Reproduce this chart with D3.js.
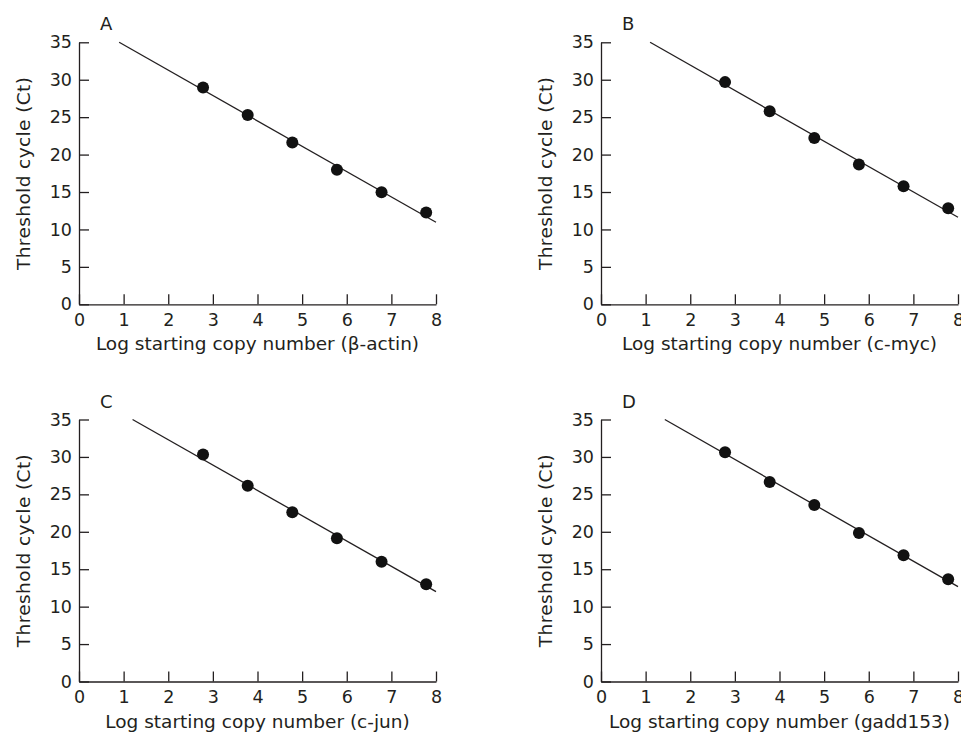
<!DOCTYPE html>
<html>
<head>
<meta charset="utf-8">
<script src="https://cdn.jsdelivr.net/npm/d3@7"></script>
<style>
  body { margin: 0; background: #fff; }
  svg text { font-family: "DejaVu Sans", sans-serif; fill: #231f20; }
</style>
</head>
<body>
<script>
// log starting copy number (same dilution series in each panel)
var logCopies = [2.78, 3.78, 4.78, 5.78, 6.78, 7.78];

// threshold cycle values
var ctActin = [28.97, 25.3, 21.6, 17.96, 14.97, 12.26];
var ctMyc   = [29.68, 25.8, 22.23, 18.67, 15.78, 12.83];
var ctJun   = [30.33, 26.15, 22.6, 19.13, 16.0, 12.99];
var ctGadd  = [30.64, 26.64, 23.57, 19.83, 16.86, 13.66];

// end points of the fitted lines [x, y]
var fitActin = [[0.9, 35], [8, 10.96]];
var fitMyc   = [[1.1, 35], [8, 11.63]];
var fitJun   = [[1.2, 35], [8, 12.0]];
var fitGadd  = [[1.43, 35], [8, 12.67]];

var panelLetters = ["A", "B", "C", "D"];
var genes = ["β-actin", "c-myc", "c-jun", "gadd153"];
var xTicks = [0, 1, 2, 3, 4, 5, 6, 7, 8];
var yTicks = [0, 5, 10, 15, 20, 25, 30, 35];

var panels = [
  {letter: panelLetters[0], gene: genes[0], ct: ctActin, fit: fitActin, left: 79,  top: 42.3},
  {letter: panelLetters[1], gene: genes[1], ct: ctMyc,   fit: fitMyc,   left: 601, top: 42.3},
  {letter: panelLetters[2], gene: genes[2], ct: ctJun,   fit: fitJun,   left: 79,  top: 419.5},
  {letter: panelLetters[3], gene: genes[3], ct: ctGadd,  fit: fitGadd,  left: 601, top: 419.5}
];

var width = 357, height = 262;

var svg = d3.select("body").append("svg")
    .attr("width", 961)
    .attr("height", 733);

var x = d3.scaleLinear().domain([0, 8]).range([0, width]);
var y = d3.scaleLinear().domain([0, 35]).range([height, 0]);

var line = d3.line()
    .x(function(d) { return x(d[0]); })
    .y(function(d) { return y(d[1]); });

panels.forEach(function(p) {
  var g = svg.append("g")
      .attr("transform", "translate(" + p.left + "," + p.top + ")");

  var xAxis = g.append("g")
      .attr("transform", "translate(0," + height + ")")
      .call(d3.axisBottom(x).tickValues(xTicks).tickSizeInner(-10).tickSizeOuter(0).tickPadding(9));

  var yAxis = g.append("g")
      .call(d3.axisLeft(y).tickValues(yTicks).tickSizeInner(-10).tickSizeOuter(0).tickPadding(7));

  [xAxis, yAxis].forEach(function(a) {
    a.selectAll("path, line").attr("stroke", "#231f20").attr("stroke-width", 1.3);
    a.selectAll("text").attr("font-size", 17.5).attr("fill", "#231f20")
      .style("font-family", "'DejaVu Sans', sans-serif");
  });

  g.append("path")
      .attr("d", line(p.fit))
      .attr("fill", "none")
      .attr("stroke", "#231f20")
      .attr("stroke-width", 1.3);

  g.selectAll("circle")
      .data(p.ct)
      .enter().append("circle")
      .attr("cx", function(d, i) { return x(logCopies[i]); })
      .attr("cy", function(d) { return y(d); })
      .attr("r", 6)
      .attr("fill", "#111");

  g.append("text")
      .attr("x", 21)
      .attr("y", -12)
      .attr("font-size", 18)
      .text(p.letter);

  g.append("text")
      .attr("x", width / 2)
      .attr("y", height + 46)
      .attr("text-anchor", "middle")
      .attr("font-size", 18.5)
      .text("Log starting copy number (" + p.gene + ")");

  g.append("text")
      .attr("transform", "translate(-49," + (height / 2) + ") rotate(-90)")
      .attr("text-anchor", "middle")
      .attr("font-size", 18.5)
      .attr("letter-spacing", 0.4)
      .text("Threshold cycle (Ct)");
});
</script>
</body>
</html>
